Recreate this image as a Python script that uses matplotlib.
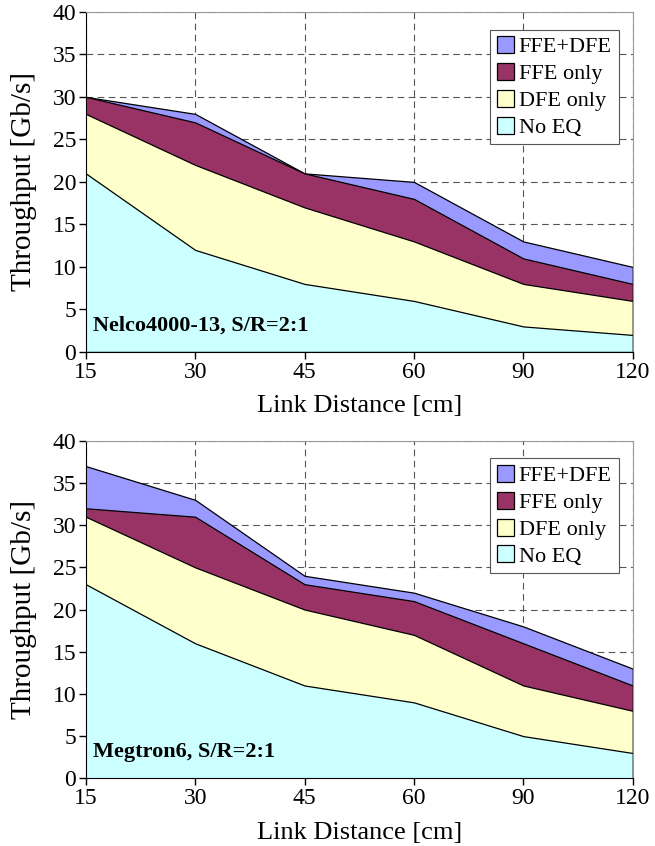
import numpy as np
import matplotlib.pyplot as plt

plt.rcParams['font.family'] = ['Liberation Serif', 'DejaVu Serif']

distances = ['15', '30', '45', '60', '90', '120']
series_names = ['FFE+DFE', 'FFE only', 'DFE only', 'No EQ']
colors = ['#9999FF', '#993366', '#FFFFCC', '#CCFFFF']

# Nelco4000-13
nelco_ffe_dfe = [30, 28, 21, 20, 13, 10]
nelco_ffe = [30, 27, 21, 18, 11, 8]
nelco_dfe = [28, 22, 17, 13, 8, 6]
nelco_noeq = [21, 12, 8, 6, 3, 2]

# Megtron6
meg_ffe_dfe = [37, 33, 24, 22, 18, 13]
meg_ffe = [32, 31, 23, 21, 16, 11]
meg_dfe = [31, 25, 20, 17, 11, 8]
meg_noeq = [23, 16, 11, 9, 5, 3]

fig = plt.figure(figsize=(6.55, 8.46), dpi=100)
ax1 = fig.add_axes([0.131, 0.584, 0.835, 0.402])
ax2 = fig.add_axes([0.131, 0.080, 0.835, 0.399])


def draw(ax, data, label):
    x = np.arange(len(distances))
    for vals, name, col in zip(data, series_names, colors):
        ax.fill_between(x, 0, vals, facecolor=col, edgecolor='black',
                        linewidth=0.9, label=name, zorder=2)
    ax.set_xlim(0, len(distances) - 1)
    ax.set_ylim(0, 40)
    ax.set_xticks(x)
    ax.set_xticklabels(distances)
    ax.set_yticks(range(0, 41, 5))
    ax.tick_params(labelsize=17, direction='out', length=5, width=1, pad=2)
    ax.grid(True, linestyle=(0, (6, 4)), color='#555555', linewidth=0.8, zorder=0)
    ax.set_axisbelow(True)
    ax.set_xlabel('Link Distance [cm]', fontsize=19, labelpad=9)
    ax.set_ylabel('Throughput [Gb/s]', fontsize=21, labelpad=11)
    for s in ['top', 'right']:
        ax.spines[s].set_color('#999999')
    leg = ax.legend(loc='upper right', bbox_to_anchor=(0.974, 0.948), fontsize=16,
                    borderaxespad=0, handlelength=0.8, handleheight=0.8,
                    handletextpad=0.2, labelspacing=0.25, borderpad=0.3,
                    fancybox=False, framealpha=1, edgecolor='#555555')
    leg.get_frame().set_linewidth(0.8)
    ax.text(0.013, 0.064, label, transform=ax.transAxes, fontsize=16,
            fontweight='bold', zorder=5)


draw(ax1, [nelco_ffe_dfe, nelco_ffe, nelco_dfe, nelco_noeq], 'Nelco4000-13, S/R=2:1')
draw(ax2, [meg_ffe_dfe, meg_ffe, meg_dfe, meg_noeq], 'Megtron6, S/R=2:1')

fig.savefig('out.png', dpi=100)
